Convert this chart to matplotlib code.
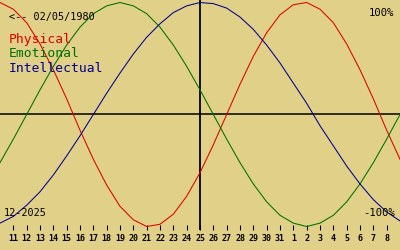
import matplotlib
matplotlib.use("Agg")
import matplotlib.pyplot as plt

# Days shown (Dec 10, 2025 .. Jan 9, 2026), as running day numbers
days = list(range(10, 41))
day_labels = [str(d) for d in range(11, 32)] + [str(d) for d in range(1, 9)]
label_days = list(range(11, 40))

# Biorhythm values per day (-1 .. 1)
physical = [1.00, 0.94, 0.82, 0.63, 0.40, 0.14, -0.14, -0.40, -0.63, -0.82,
            -0.94, -1.00, -0.98, -0.89, -0.73, -0.52, -0.27, 0.00, 0.27, 0.52,
            0.73, 0.89, 0.98, 1.00, 0.94, 0.82, 0.63, 0.40, 0.14, -0.14, -0.40]
emotional = [-0.43, -0.22, 0.00, 0.22, 0.43, 0.62, 0.78, 0.90, 0.97, 1.00,
             0.97, 0.90, 0.78, 0.62, 0.43, 0.22, 0.00, -0.22, -0.43, -0.62,
             -0.78, -0.90, -0.97, -1.00, -0.97, -0.90, -0.78, -0.62, -0.43, -0.22, 0.00]
intellectual = [-0.97, -0.91, -0.81, -0.69, -0.54, -0.37, -0.19, 0.00, 0.19, 0.37,
                0.54, 0.69, 0.81, 0.91, 0.97, 1.00, 0.99, 0.95, 0.87, 0.76,
                0.62, 0.46, 0.28, 0.10, -0.10, -0.28, -0.46, -0.62, -0.76, -0.87, -0.95]
today = 25
birth_text = "<-- 02/05/1980"
month_text = "12-2025"
series_names = ["Physical", "Emotional", "Intellectual"]

BG = "#E0D088"
RED = "#DD0000"
GREEN = "#007000"
BLUE = "#000090"
MONO = "DejaVu Sans Mono"

fig = plt.figure(figsize=(4, 2.5), dpi=100, facecolor=BG)
W, H = 400, 250
ax = fig.add_axes([0, 20 / H, 1, 230 / H])
ax.set_facecolor(BG)
ax.set_xlim(10, 40)
ax.set_ylim(-1.03125, 1.0223)
for s in ax.spines.values():
    s.set_visible(False)

ax.axhline(0, color="black", lw=1.1)
ax.axvline(today, color="black", lw=1.3)

for vals, col in [(physical, RED), (emotional, GREEN), (intellectual, BLUE)]:
    ax.plot(days, vals, color=col, lw=0.75)

ax.set_yticks([])
ax.set_xticks(label_days)
ax.set_xticklabels(day_labels, family=MONO, fontsize=6, fontweight="bold")
ax.tick_params(axis="x", direction="in", length=3.8, width=0.75,
               color="black", pad=3)


def txt(x, y, s, color="black", size=7.3, ha="left"):
    fig.text(x / W, 1 - y / H, s, color=color, fontsize=size, family=MONO,
             ha=ha, va="baseline")


txt(9, 20, birth_text, size=7.3)
for name, col, base in zip(series_names, [RED, GREEN, BLUE], [43, 57, 72]):
    txt(9, base, name, color=col, size=9.4)
txt(394, 16, "100%", size=7.6, ha="right")
txt(395, 216, "-100%", size=7.6, ha="right")
txt(4, 216, month_text, size=7.3)

fig.savefig("out.png", dpi=100, facecolor=BG)
